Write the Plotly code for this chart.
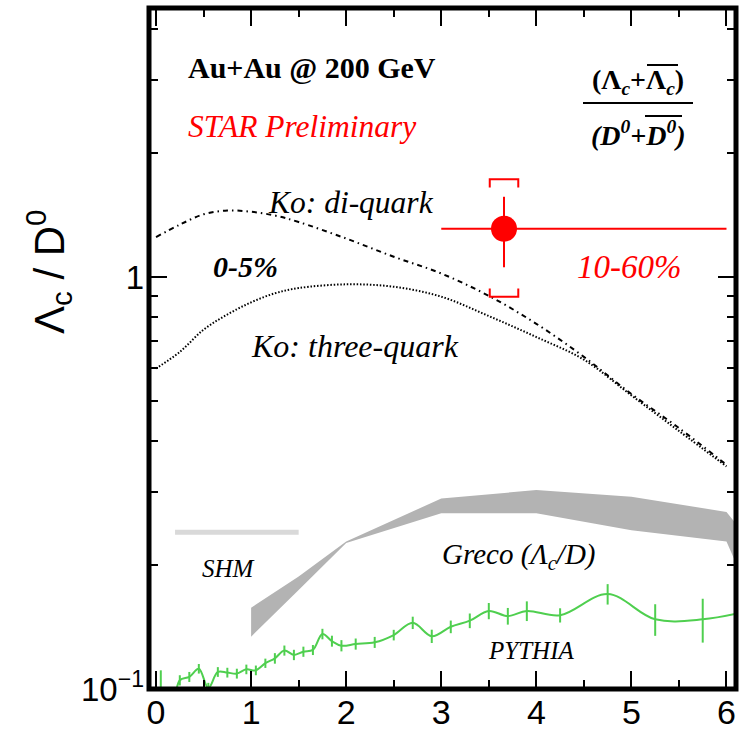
import plotly.graph_objects as go

# ---------------- data ----------------
ko_di_x = [0, 0.25, 0.5, 0.75, 1.0, 1.25, 1.5, 2.0, 2.5, 3.0, 3.5, 4.0, 4.5, 5.0, 5.5, 6.0]
ko_di_y = [1.25, 1.34, 1.42, 1.45, 1.44, 1.41, 1.36, 1.24, 1.12, 1.02, 0.90, 0.77, 0.64, 0.52, 0.43, 0.35]

ko_three_x = [0, 0.25, 0.5, 0.75, 1.0, 1.25, 1.5, 2.0, 2.5, 3.0, 3.5, 4.0, 4.5, 5.0, 5.5, 6.0]
ko_three_y = [0.60, 0.658, 0.745, 0.811, 0.868, 0.913, 0.94, 0.96, 0.947, 0.896, 0.804, 0.715, 0.63, 0.516, 0.423, 0.347]

greco_x = [1.0, 1.5, 2.0, 3.0, 4.0, 5.0, 6.0, 6.1]
greco_hi = [0.1575, 0.1874, 0.228, 0.290, 0.304, 0.293, 0.269, 0.252]
greco_lo = [0.134, 0.174, 0.226, 0.267, 0.267, 0.243, 0.228, 0.202]

shm_x = [0.2, 1.5]
shm_y = [0.24, 0.24]

pythia_x = [0.05, 0.15, 0.25, 0.35, 0.45, 0.55, 0.65, 0.75, 0.85, 0.95, 1.05, 1.15, 1.25, 1.35,
            1.45, 1.55, 1.65, 1.75, 1.85, 1.95, 2.1, 2.3, 2.5, 2.7, 2.9, 3.1, 3.3, 3.5, 3.7, 3.9,
            4.25, 4.75, 5.25, 5.75, 6.25]
pythia_y = [0.090, 0.088, 0.105, 0.107, 0.112, 0.1005, 0.110, 0.1096, 0.109, 0.1116, 0.111, 0.1155,
            0.1187, 0.124, 0.121, 0.1232, 0.1244, 0.136, 0.1307, 0.1274, 0.1286, 0.1298, 0.1352,
            0.1448, 0.1343, 0.1416, 0.1465, 0.1547, 0.1503, 0.1547, 0.151, 0.170, 0.1476, 0.1476, 0.155]
pythia_err = [0.021, 0.008, 0.003, 0.003, 0.003, 0.003, 0.003, 0.003, 0.003, 0.003, 0.003, 0.003,
              0.0035, 0.0035, 0.0035, 0.0035, 0.0035, 0.004, 0.004, 0.004, 0.004, 0.004, 0.004,
              0.005, 0.005, 0.005, 0.006, 0.007, 0.007, 0.0085, 0.006, 0.0097, 0.013, 0.018, 0.02]

star_x = [3.66]
star_y = [1.31]
star_x_lo = [3.0]
star_x_hi = [6.0]
star_stat_hi = [1.566]
star_stat_lo = [1.056]
star_sys_hi = [1.726]
star_sys_lo = [0.896]

x_tickvals = [0, 1, 2, 3, 4, 5, 6]
y_tickvals = [0.1, 1]
y_ticktext = ["10<sup>\u22121</sup>", "1"]
y_minor = [0.2, 0.3, 0.4, 0.5, 0.6, 0.7, 0.8, 0.9, 2, 3, 4]

# ---------------- geometry helpers ----------------
W, H = 748, 730
L, R, T, B = 149, 12, 8, 41
PW, PH = W - L - R, H - T - B


def pxx(p):
    return (p - L) / PW


def pxy(p):
    return (H - B - p) / PH


SERIF = "Liberation Serif"
SANS = "Liberation Sans"
GREEN = "#4fcf4f"

fig = go.Figure()

# Greco band
fig.add_trace(go.Scatter(
    x=greco_x + greco_x[::-1], y=greco_hi + greco_lo[::-1],
    fill="toself", fillcolor="#b3b3b3", line=dict(width=0), mode="lines", hoverinfo="skip"))

# SHM
fig.add_trace(go.Scatter(x=shm_x, y=shm_y, mode="lines", line=dict(color="#d9d9d9", width=5)))

# Ko curves
fig.add_trace(go.Scatter(x=ko_di_x, y=ko_di_y, mode="lines",
                         line=dict(color="black", width=2, shape="spline", dash="5px,4px,1.5px,4px")))
fig.add_trace(go.Scatter(x=ko_three_x, y=ko_three_y, mode="lines",
                         line=dict(color="black", width=2, shape="spline", dash="1.5px,1.8px")))

# PYTHIA
fig.add_trace(go.Scatter(
    x=pythia_x, y=pythia_y, mode="lines",
    line=dict(color=GREEN, width=2, shape="spline", smoothing=1.0),
    error_y=dict(type="data", array=pythia_err, visible=True, color=GREEN, thickness=2, width=0)))

# STAR systematic brackets
bw = 0.15
tip = 1.046
bx, by = [], []
for xc, hi, lo in zip(star_x, star_sys_hi, star_sys_lo):
    bx += [xc - bw, xc - bw, xc + bw, xc + bw, None, xc - bw, xc - bw, xc + bw, xc + bw, None]
    by += [hi / tip, hi, hi, hi / tip, None, lo * tip, lo, lo, lo * tip, None]
fig.add_trace(go.Scatter(x=bx, y=by, mode="lines", line=dict(color="red", width=2)))

# STAR point
fig.add_trace(go.Scatter(
    x=star_x, y=star_y, mode="markers",
    marker=dict(color="red", size=26, symbol="circle"),
    error_x=dict(type="data", symmetric=False,
                 array=[h - x for h, x in zip(star_x_hi, star_x)],
                 arrayminus=[x - l for l, x in zip(star_x_lo, star_x)],
                 color="red", thickness=2, width=0),
    error_y=dict(type="data", symmetric=False,
                 array=[h - y for h, y in zip(star_stat_hi, star_y)],
                 arrayminus=[y - l for l, y in zip(star_stat_lo, star_y)],
                 color="red", thickness=2, width=0)))

fig.update_layout(
    width=W, height=H, margin=dict(l=L, r=R, t=T, b=B, autoexpand=False),
    plot_bgcolor="white", paper_bgcolor="white", showlegend=False,
    xaxis=dict(range=[-0.074, 6.1], tickmode="array", tickvals=x_tickvals,
               ticks="inside", ticklen=18, tickwidth=1.5, tickcolor="black", mirror="ticks",
               showgrid=False, zeroline=False, showline=False, automargin=False,
               tickfont=dict(family=SANS, size=34, color="black"),
               minor=dict(dtick=0.5, tick0=0, ticks="inside", ticklen=9, tickwidth=1.5,
                          tickcolor="black", showgrid=False)),
    yaxis=dict(type="log", range=[-1, 0.653], tickmode="array", tickvals=y_tickvals,
               ticktext=y_ticktext, automargin=False, ticklabelstandoff=4,
               ticks="inside", ticklen=18, tickwidth=1.5, tickcolor="black", mirror="ticks",
               showgrid=False, zeroline=False, showline=False,
               tickfont=dict(family=SANS, size=33, color="black"),
               minor=dict(tickmode="array", tickvals=y_minor, ticks="inside", ticklen=9,
                          tickwidth=1.5, tickcolor="black", showgrid=False)),
)

shapes = [
    dict(type="rect", xref="paper", yref="paper", x0=0, x1=1, y0=0, y1=1,
         line=dict(color="black", width=5), layer="above"),
    # fraction bar and overlines
    dict(type="line", xref="paper", yref="paper", x0=pxx(583), x1=pxx(693), y0=pxy(103), y1=pxy(103),
         line=dict(color="black", width=2)),
    dict(type="line", xref="paper", yref="paper", x0=pxx(647), x1=pxx(678), y0=pxy(65), y1=pxy(65),
         line=dict(color="black", width=2)),
    dict(type="line", xref="paper", yref="paper", x0=pxx(645), x1=pxx(682), y0=pxy(116), y1=pxy(116),
         line=dict(color="black", width=2)),
]
fig.update_layout(shapes=shapes)


def txt(s, x, y, size, color="black", family=SERIF, xanchor="left", angle=0):
    fig.add_annotation(text=s, x=pxx(x), y=pxy(y), xref="paper", yref="paper", showarrow=False,
                       xanchor=xanchor, yanchor="middle", textangle=angle,
                       font=dict(family=family, size=size, color=color))


txt("<b>Au+Au @ 200 GeV</b>", 186, 67, 30)
txt("<i>STAR Preliminary</i>", 186, 126, 31.5, color="red")
txt("<i>Ko: di-quark</i>", 266, 202, 31.5)
txt("<b><i>0-5%</i></b>", 211, 267, 30)
txt("<i>Ko: three-quark</i>", 249, 346, 32)
txt("<i>10-60%</i>", 575, 267, 33, color="red")
txt("<i>SHM</i>", 200, 568, 25)
txt("<i>Greco (\u039b<sub>c</sub>/D)</i>", 440, 556, 29)
txt("<i>PYTHIA</i>", 486, 650, 25)
txt("<b>(\u039b<sub><i>c</i></sub>+\u039b<sub><i>c</i></sub>)</b>", 638, 82, 28, xanchor="center")
txt("<b><i>(D<sup>0</sup>+D<sup>0</sup>)</i></b>", 638, 133, 28, xanchor="center")
txt("\u039b<sub>c</sub> / D<sup>0</sup>", 48, 272, 42, family=SANS, xanchor="center", angle=-90)

fig.write_html("out.html", config={"displayModeBar": False},
               post_script="document.body.style.margin='0';document.body.style.overflow='hidden';")
